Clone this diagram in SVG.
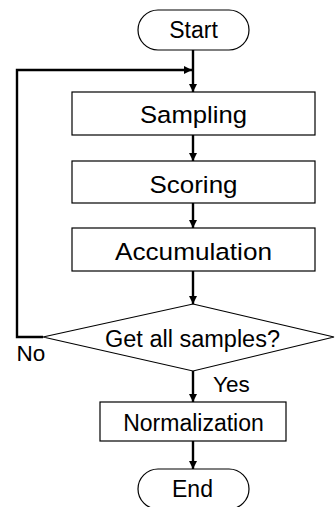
<svg xmlns="http://www.w3.org/2000/svg" width="336" height="507" viewBox="0 0 336 507">
  <style>
    .shape { fill: #fff; stroke: #000; stroke-width: 1.2; }
    .label { font-family: "Liberation Sans", Arial, sans-serif; font-size: 23px; fill: #000; text-anchor: middle; }
    .wide { font-size: 24.5px; }
    .side { font-family: "Liberation Sans", Arial, sans-serif; font-size: 22.5px; fill: #000; }
    .flow { fill: none; stroke: #000; stroke-width: 2.4; }
  </style>
  <defs>
    <marker id="arrow" viewBox="0 0 8 8" refX="8" refY="4" markerWidth="8" markerHeight="8" markerUnits="userSpaceOnUse" orient="auto">
      <path d="M0,0 L8,4 L0,8 Z" fill="#000"/>
    </marker>
  </defs>
  <rect width="336" height="507" fill="#fff"/>

  <g id="connectors">
    <line class="flow" x1="193" y1="50" x2="193" y2="92" marker-end="url(#arrow)"/>
    <polyline class="flow" points="43,337 17,337 17,70 192,70" marker-end="url(#arrow)"/>
    <line class="flow" x1="193" y1="135" x2="193" y2="161" marker-end="url(#arrow)"/>
    <line class="flow" x1="193" y1="203" x2="193" y2="228" marker-end="url(#arrow)"/>
    <line class="flow" x1="193" y1="271" x2="193" y2="304" marker-end="url(#arrow)"/>
    <line class="flow" x1="193" y1="371" x2="193" y2="402" marker-end="url(#arrow)"/>
    <line class="flow" x1="193" y1="441" x2="193" y2="469" marker-end="url(#arrow)"/>
  </g>

  <g id="start">
    <rect class="shape" x="138" y="10" width="111" height="40" rx="20" ry="20"/>
    <text class="label" x="193.5" y="37.5">Start</text>
  </g>

  <g id="sampling">
    <rect class="shape" x="72" y="92" width="243" height="43"/>
    <text class="label wide" x="193.5" y="122.7" textLength="107" lengthAdjust="spacingAndGlyphs">Sampling</text>
  </g>

  <g id="scoring">
    <rect class="shape" x="72" y="161" width="243" height="42"/>
    <text class="label wide" x="193.5" y="193" textLength="88" lengthAdjust="spacingAndGlyphs">Scoring</text>
  </g>

  <g id="accumulation">
    <rect class="shape" x="72" y="228" width="243" height="43"/>
    <text class="label wide" x="193.5" y="260" textLength="157" lengthAdjust="spacingAndGlyphs">Accumulation</text>
  </g>

  <g id="decision">
    <polygon class="shape" points="193,304 334,337 193,371 43,337"/>
    <text class="label" x="192.5" y="347.3" textLength="175" lengthAdjust="spacingAndGlyphs">Get all samples?</text>
    <text class="side" x="16.5" y="361">No</text>
    <text class="side" x="213" y="391.7">Yes</text>
  </g>

  <g id="normalization">
    <rect class="shape" x="100" y="402" width="186" height="39"/>
    <text class="label" x="193.5" y="430.7">Normalization</text>
  </g>

  <g id="end">
    <rect class="shape" x="138" y="469" width="111" height="40" rx="20" ry="20"/>
    <text class="label" x="192.5" y="496.7">End</text>
  </g>
</svg>
